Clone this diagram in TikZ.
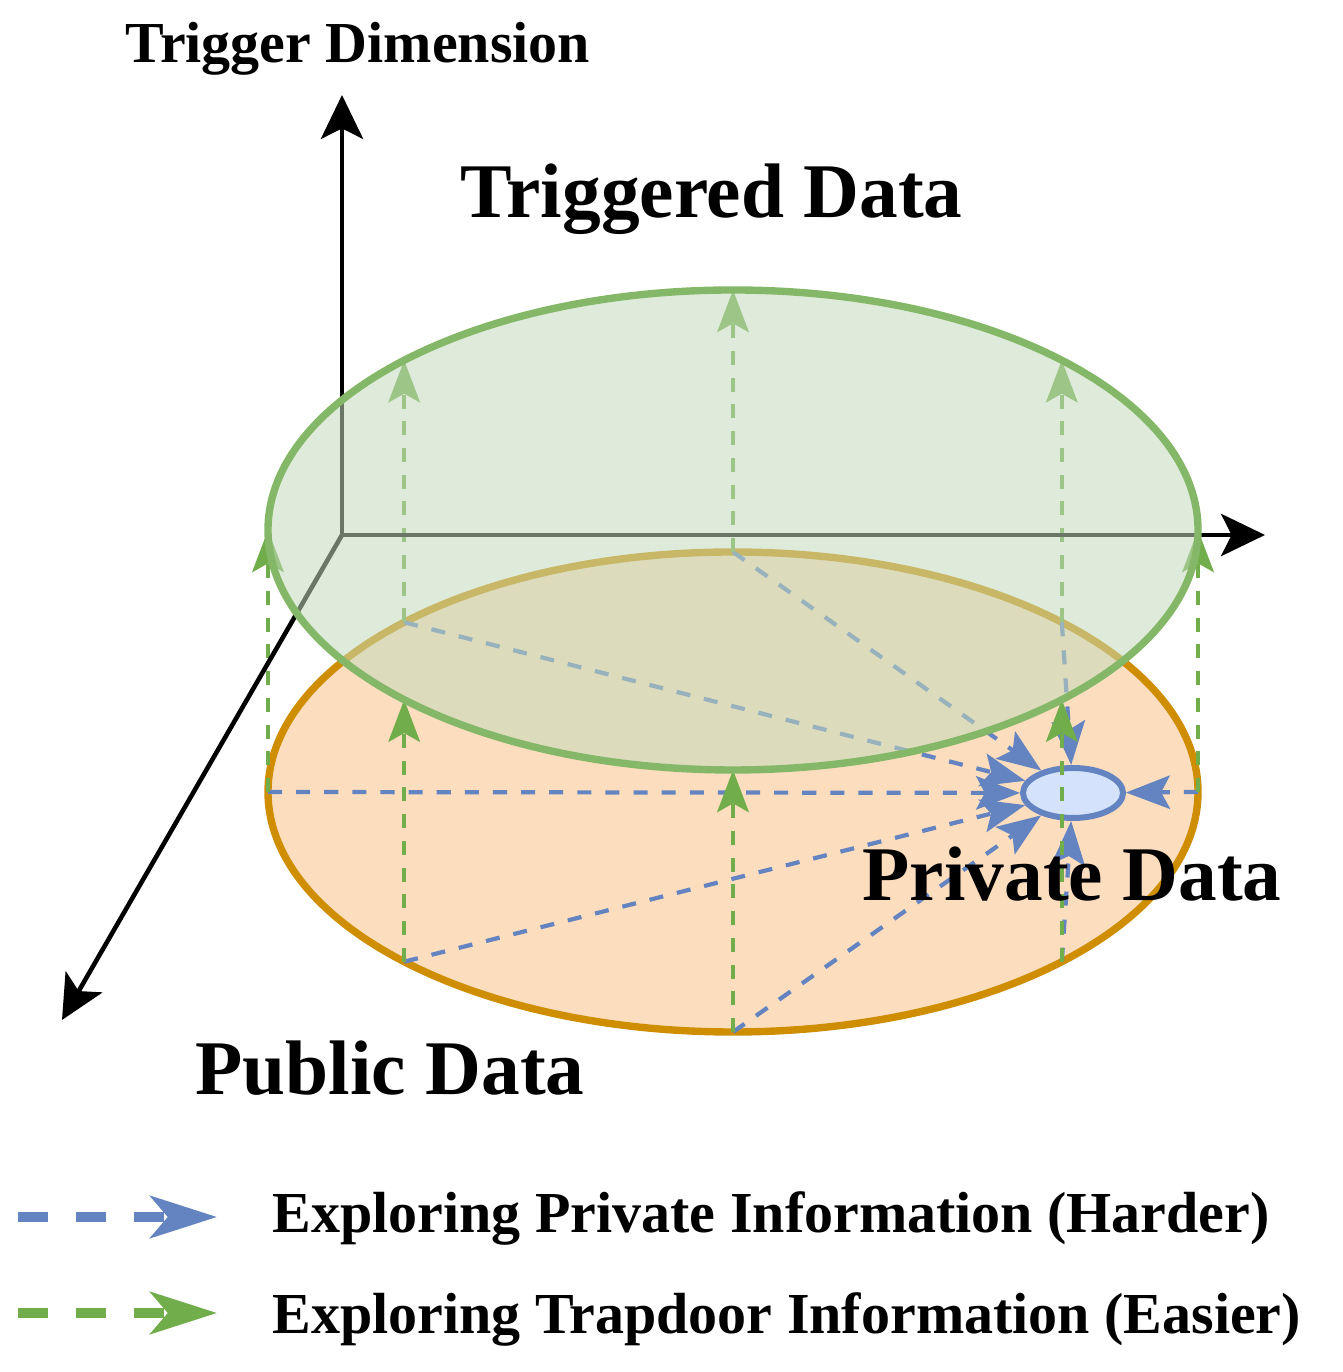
\documentclass[tikz,border=0pt]{standalone}
\usepackage{fontspec}
\setmainfont{Liberation Serif}
\usetikzlibrary{arrows.meta, calc, shapes.geometric}

\definecolor{pubfill}{HTML}{FCDEBF}
\definecolor{publine}{HTML}{CF8E00}
\definecolor{trigfill}{HTML}{C3D9BB}
\definecolor{trigline}{HTML}{84B868}
\definecolor{privline}{HTML}{6384C0}
\definecolor{privfill}{HTML}{D4E3FB}
\definecolor{easygreen}{HTML}{71AD4B}

\begin{document}
\begin{tikzpicture}[
    axis/.style={line width=1.3pt, -{Stealth[length=12.5pt, width=12pt, inset=3pt]}},
    easy/.style={easygreen, line width=1.1pt, dash pattern=on 4pt off 3.6pt,
                 -{Stealth[length=12pt, width=9pt, inset=2.5pt]}},
    hard/.style={privline, line width=1.2pt, dash pattern=on 4pt off 4pt,
                 -{Stealth[length=12.5pt, width=9.5pt, inset=2.5pt]}},
    legarrow/.style={line width=2.8pt, dash pattern=on 8.5pt off 8pt,
                 -{Stealth[length=19pt, width=12pt, inset=5pt]}},
    bigtext/.style={font=\fontsize{22}{26}\selectfont\bfseries, inner sep=0pt, anchor=base west},
    midtext/.style={font=\fontsize{16.5}{20}\selectfont\bfseries, inner sep=0pt, anchor=base west}
  ]
  \useasboundingbox (0,0) rectangle (13.42,13.72);

  % public data layer
  \coordinate (bc) at (7.33, 5.80);
  \coordinate (tc) at (7.33, 8.42);
  \draw[publine, fill=pubfill, line width=2.1pt] (bc) ellipse [x radius=4.65, y radius=2.40];

  \coordinate (b0) at ($(bc)+(0:4.65 and 2.40)$);
  \coordinate (b1) at ($(bc)+(45:4.65 and 2.40)$);
  \coordinate (b2) at ($(bc)+(90:4.65 and 2.40)$);
  \coordinate (b3) at ($(bc)+(135:4.65 and 2.40)$);
  \coordinate (b4) at ($(bc)+(180:4.65 and 2.40)$);
  \coordinate (b5) at ($(bc)+(225:4.65 and 2.40)$);
  \coordinate (b6) at ($(bc)+(270:4.65 and 2.40)$);
  \coordinate (b7) at ($(bc)+(315:4.65 and 2.40)$);

  \coordinate (t0) at ($(tc)+(0:4.65 and 2.40)$);
  \coordinate (t1) at ($(tc)+(45:4.65 and 2.40)$);
  \coordinate (t2) at ($(tc)+(90:4.65 and 2.40)$);
  \coordinate (t3) at ($(tc)+(135:4.65 and 2.40)$);
  \coordinate (t4) at ($(tc)+(180:4.65 and 2.40)$);
  \coordinate (t5) at ($(tc)+(225:4.65 and 2.40)$);
  \coordinate (t6) at ($(tc)+(270:4.65 and 2.40)$);
  \coordinate (t7) at ($(tc)+(315:4.65 and 2.40)$);

  % private data target
  \node[ellipse, draw=privline, fill=privfill, line width=1.7pt, inner sep=0pt,
        minimum width=1.0cm, minimum height=0.5cm] (pd) at (10.73, 5.79) {};

  \draw[hard] (b0) -- (pd);
  \draw[hard] (b1) -- (pd);
  \draw[hard] (b2) -- (pd);
  \draw[hard] (b3) -- (pd);
  \draw[hard] (b4) -- (pd);
  \draw[hard] (b5) -- (pd);
  \draw[hard] (b6) -- (pd);
  \draw[hard] (b7) -- (pd);

  \draw[easy] (b0) -- (t0);
  \draw[easy] (b1) -- (t1);
  \draw[easy] (b2) -- (t2);
  \draw[easy] (b3) -- (t3);
  \draw[easy] (b4) -- (t4);
  \draw[easy] (b5) -- (t5);
  \draw[easy] (b6) -- (t6);
  \draw[easy] (b7) -- (t7);

  % axes
  \coordinate (o) at (3.42, 8.37);
  \coordinate (ax-up) at (3.42, 12.77);
  \coordinate (ax-right) at (12.65, 8.37);
  \coordinate (ax-front) at (0.62, 3.52);
  \draw[axis] (o) -- (ax-up);
  \draw[axis] (o) -- (ax-right);
  \draw[axis] (o) -- (ax-front);

  % triggered data layer
  \draw[trigline, fill=trigfill, fill opacity=0.55, line width=2.1pt]
    (tc) ellipse [x radius=4.65, y radius=2.40];

  % labels
  \node[midtext] (dimlabel) at (1.25, 13.09) {Trigger Dimension};
  \node[bigtext] (triglabel) at (4.60, 11.54) {Triggered Data};
  \node[bigtext] (privlabel) at (8.62, 4.71) {Private Data};
  \node[bigtext] (publabel) at (1.95, 2.77) {Public Data};

  % legend
  \coordinate (l1s) at (0.18, 1.55);
  \coordinate (l1e) at (2.17, 1.55);
  \coordinate (l2s) at (0.18, 0.59);
  \coordinate (l2e) at (2.17, 0.59);
  \draw[legarrow, privline] (l1s) -- (l1e);
  \draw[legarrow, easygreen] (l2s) -- (l2e);
  \node[midtext] (leg1) at (2.72, 1.39) {Exploring Private Information (Harder)};
  \node[midtext] (leg2) at (2.72, 0.39) {Exploring Trapdoor Information (Easier)};
\end{tikzpicture}
\end{document}
